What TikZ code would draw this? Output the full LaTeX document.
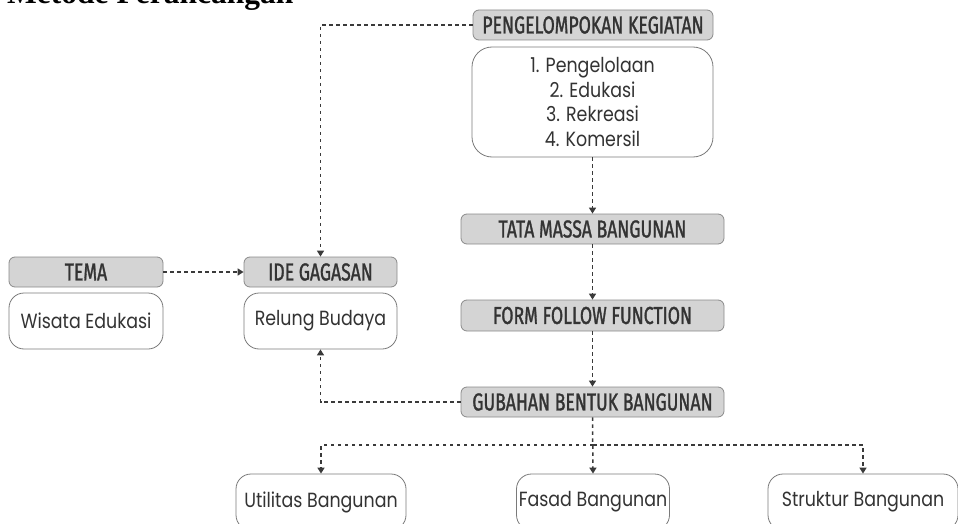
\documentclass[tikz,border=0pt]{standalone}
\usepackage{fontspec}
\usetikzlibrary{arrows.meta}
\setmainfont{Liberation Serif}
\newfontfamily\headfont[FakeStretch=0.72, FakeBold=1.2]{Fira Sans}
\newfontfamily\bodyfont[FakeStretch=0.85]{Poppins}
\definecolor{hdrfill}{HTML}{D4D4D4}
\definecolor{hdrdraw}{HTML}{8A8A8A}
\definecolor{boxdraw}{HTML}{7A7A7A}
\definecolor{txt}{HTML}{333333}
\definecolor{lnk}{HTML}{3A3A3A}
\tikzset{
  hdr/.style={draw=hdrdraw, fill=hdrfill, rounded corners=6pt, line width=0.8pt,
    inner sep=0pt, minimum height=30pt, text=txt,
    font=\headfont\fontsize{24.5}{26}\selectfont},
  card/.style={draw=boxdraw, fill=white, rounded corners=15pt, line width=0.8pt,
    inner sep=0pt, minimum height=56pt, text=txt,
    font=\bodyfont\fontsize{20.5}{24.5}\selectfont},
  conn/.style={draw=lnk, line width=1.5pt, dash pattern=on 3.5pt off 3.5pt,
    -{Triangle[width=7pt,length=6pt]}},
  connline/.style={draw=lnk, line width=1.5pt, dash pattern=on 3.5pt off 3.5pt}
}
\begin{document}
\begin{tikzpicture}[x=1pt,y=-1pt]
\useasboundingbox (0,0) rectangle (958,524);
\clip (0,0) rectangle (958,524);

\node[anchor=base west, font=\fontsize{31.5}{34}\selectfont\bfseries, inner sep=0pt]
  (title) at (7,4) {Metode Perancangan};

% headers
\node[hdr, minimum width=154pt] (tema) at (86,272) {TEMA};
\node[hdr, minimum width=153pt] (ide) at (320.5,272) {IDE GAGASAN};
\node[hdr, minimum width=240pt] (peng) at (593,25) {PENGELOMPOKAN KEGIATAN};
\node[hdr, minimum width=263pt] (tata) at (592.5,229) {TATA MASSA BANGUNAN};
\node[hdr, minimum width=263pt, minimum height=31pt] (form) at (592.5,315.5) {FORM FOLLOW FUNCTION};
\node[hdr, minimum width=263pt] (gub) at (592.5,402) {GUBAHAN BENTUK BANGUNAN};

% cards
\node[card, minimum width=154pt] (wisata) at (86,321) {Wisata Edukasi};
\node[card, minimum width=153pt] (relung) at (320.5,321) {Relung Budaya};
\node[card, minimum width=241pt, minimum height=110pt, rounded corners=20pt, align=center]
  (list) at (592.5,102) {1. Pengelolaan\\2. Edukasi\\3. Rekreasi\\4. Komersil};
\node[card, minimum width=170pt] (util) at (321,502) {Utilitas Bangunan};
\node[card, minimum width=153pt] (fasad) at (593,502) {Fasad Bangunan};
\node[card, minimum width=190pt] (strk) at (863,502) {Struktur Bangunan};

% connectors
\draw[conn] (peng.west) -| (ide.north);
\draw[conn] (tema.east) -- (ide.west);
\draw[conn] (list.south) -- (tata.north);
\draw[conn] (tata.south) -- (form.north);
\draw[conn] (form.south) -- (gub.north);
\draw[conn] (gub.west) -| (relung.south);
\coordinate (split) at (593,445);
\draw[conn] (gub.south) -- (fasad.north);
\draw[conn] (split) -| (util.north);
\draw[conn] (split) -| (strk.north);
\end{tikzpicture}
\end{document}
